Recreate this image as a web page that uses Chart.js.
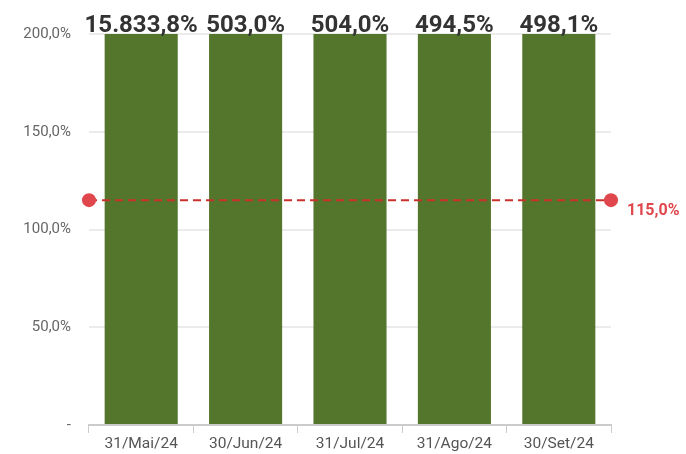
<!DOCTYPE html>
<html>
<head>
<meta charset="utf-8">
<script src="https://cdn.jsdelivr.net/npm/chart.js@4/dist/chart.umd.min.js"></script>
<style>
    html, body { margin: 0; padding: 0; background: #fff; }
    #wrap { width: 686px; height: 454px; }
</style>
</head>
<body>
<div id="wrap"><canvas id="occChart" width="686" height="454"></canvas></div>
<script>
// ── data ──────────────────────────────────────────────
const categories = ['31/Mai/24', '30/Jun/24', '31/Jul/24', '31/Ago/24', '30/Set/24'];
const ratios = [15833.8, 503.0, 504.0, 494.5, 498.1];
const minRatio = 115.0;
const yTicks = [0, 50, 100, 150, 200];

const fmtPct = v => v.toLocaleString('de-DE', { minimumFractionDigits: 1, maximumFractionDigits: 1 }) + '%';

// ── labels above the bars + target label ─────────────
const labelPlugin = {
    id: 'labels',
    afterDatasetsDraw(chart) {
        const ctx = chart.ctx;
        const area = chart.chartArea;
        const bars = chart.getDatasetMeta(1);
        ctx.save();
        ctx.font = 'bold 24px Roboto';
        ctx.fillStyle = '#333333';
        ctx.textAlign = 'center';
        ctx.textBaseline = 'alphabetic';
        bars.data.forEach((el, i) => {
            const top = Math.max(el.y, area.top);
            ctx.fillText(fmtPct(ratios[i]), el.x, top - 2);
        });

        const line = chart.getDatasetMeta(0);
        const last = line.data[line.data.length - 1];
        ctx.font = 'bold 16px Roboto';
        ctx.fillStyle = '#e0474c';
        ctx.textAlign = 'left';
        ctx.fillText(fmtPct(minRatio), last.x + 16, last.y + 15);
        ctx.restore();
    }
};

new Chart(document.getElementById('occChart'), {
    type: 'bar',
    data: {
        labels: categories,
        datasets: [{
            type: 'line',
            label: 'Mínimo',
            data: [{ x: 0, y: minRatio }, { x: 1, y: minRatio }],
            xAxisID: 'x2',
            borderColor: '#c9302c',
            borderWidth: 2,
            borderDash: [8, 5],
            pointRadius: 7,
            pointBackgroundColor: '#e0474c',
            pointBorderWidth: 0,
            clip: false,
            order: 0
        }, {
            label: 'Índice',
            data: ratios,
            backgroundColor: '#54752c',
            barPercentage: 0.7,
            categoryPercentage: 1,
            grouped: false,
            order: 1
        }]
    },
    options: {
        responsive: false,
        animation: false,
        layout: { padding: { top: 34, right: 75 } },
        plugins: {
            legend: { display: false },
            tooltip: { enabled: false }
        },
        scales: {
            x: {
                offset: true,
                grid: { offset: true, drawOnChartArea: false, tickLength: 8, color: '#cccccc' },
                border: { color: '#cccccc', width: 2 },
                ticks: { color: '#555555', font: { family: 'Roboto', size: 15.5 }, padding: 2 },
                afterFit: s => { s.height = 29; }
            },
            x2: { type: 'linear', min: 0, max: 1, offset: false, grid: { offset: false }, display: false },
            y: {
                min: 0,
                max: 200,
                afterBuildTicks: s => { s.ticks = yTicks.map(v => ({ value: v })); },
                grid: { color: '#ebebeb', drawTicks: false, lineWidth: 2 },
                border: { display: false },
                ticks: {
                    color: '#666666',
                    font: { family: 'Roboto', size: 15 },
                    padding: 18,
                    callback: v => v === 0 ? '-' : fmtPct(v)
                },
                afterFit: s => { s.width = 89; }
            }
        }
    },
    plugins: [labelPlugin]
});
</script>
</body>
</html>
